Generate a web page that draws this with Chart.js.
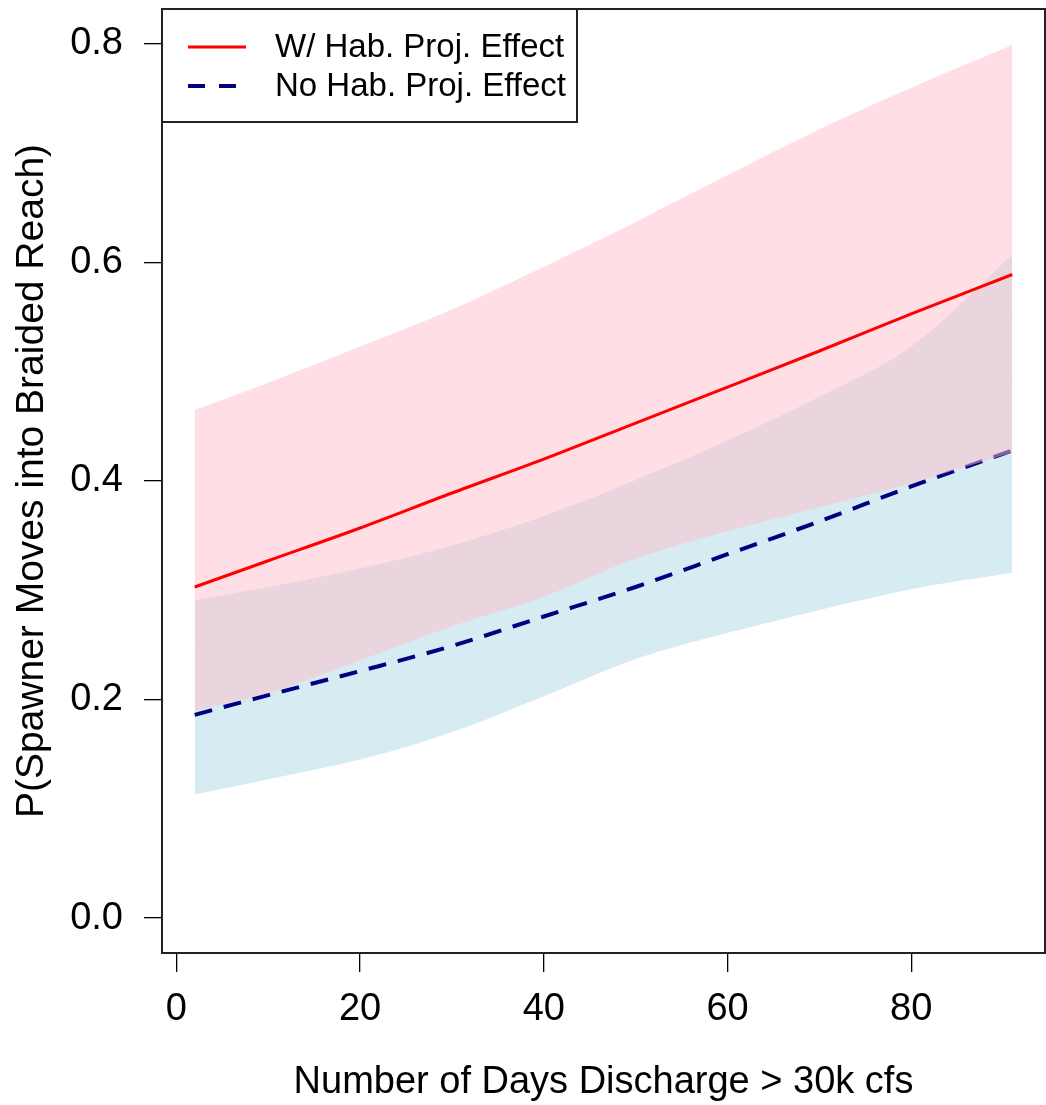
<!DOCTYPE html>
<html>
<head>
<meta charset="utf-8">
<script src="https://cdn.jsdelivr.net/npm/chart.js@4.4.1/dist/chart.umd.min.js"></script>
<style>
  html, body { margin: 0; padding: 0; background: #fff; }
  #wrap { position: relative; width: 1046px; height: 1105px; }
</style>
</head>
<body>
<div id="wrap"><canvas id="chart"></canvas></div>
<script>
// values
const days     = [2, 10, 20, 30, 40, 50, 60, 70, 80, 91];
const habFit   = [0.303, 0.327, 0.357, 0.389, 0.420, 0.453, 0.486, 0.519, 0.553, 0.589];
const habUpper = [0.465, 0.490, 0.523, 0.557, 0.596, 0.637, 0.680, 0.722, 0.760, 0.799];
const habLower = [0.190, 0.206, 0.236, 0.267, 0.294, 0.329, 0.354, 0.376, 0.398, 0.426];
const noFit    = [0.186, 0.204, 0.226, 0.249, 0.276, 0.303, 0.333, 0.363, 0.395, 0.428];
const noUpper  = [0.291, 0.303, 0.320, 0.341, 0.368, 0.401, 0.437, 0.477, 0.523, 0.607];
const noLower  = [0.113, 0.127, 0.145, 0.170, 0.203, 0.237, 0.261, 0.282, 0.301, 0.316];
const xTicks   = [0, 20, 40, 60, 80];
const yTicks   = [0, 0.2, 0.4, 0.6, 0.8];
const seriesNames = ['W/ Hab. Proj. Effect', 'No Hab. Proj. Effect'];

const FONT = 'Liberation Sans, Arial, sans-serif';
const pts = arr => days.map((d, i) => ({ x: d, y: arr[i] }));
const band = { borderWidth: 0, pointRadius: 0, cubicInterpolationMode: 'monotone' };

// plot frame, R style
const boxPlugin = {
  id: 'box',
  afterDatasetsDraw(chart) {
    const { ctx, chartArea: a } = chart;
    ctx.save();
    ctx.strokeStyle = '#222';
    ctx.lineWidth = 2;
    ctx.strokeRect(a.left, a.top, a.right - a.left, a.bottom - a.top);
    ctx.restore();
  }
};

const legendPlugin = {
  id: 'rlegend',
  afterDraw(chart) {
    const { ctx, chartArea: a } = chart;
    const w = 415, hgt = 113;
    ctx.save();
    ctx.fillStyle = '#fff';
    ctx.fillRect(a.left, a.top, w, hgt);
    ctx.strokeStyle = '#222';
    ctx.lineWidth = 2;
    ctx.strokeRect(a.left, a.top, w, hgt);
    const rows = [
      { y: a.top + 38, color: '#ff0000', width: 3, dash: [] },
      { y: a.top + 77, color: '#000080', width: 4, dash: [17, 14] }
    ];
    rows.forEach((r, i) => {
      ctx.beginPath();
      ctx.setLineDash(r.dash);
      ctx.strokeStyle = r.color;
      ctx.lineWidth = r.width;
      ctx.moveTo(a.left + 26, r.y);
      ctx.lineTo(a.left + 84, r.y);
      ctx.stroke();
      ctx.setLineDash([]);
      ctx.fillStyle = '#000';
      ctx.font = '33px ' + FONT;
      ctx.textBaseline = 'middle';
      ctx.fillText(seriesNames[i], a.left + 113, r.y + 1);
    });
    ctx.restore();
  }
};

new Chart(document.getElementById('chart'), {
  type: 'line',
  data: {
    datasets: [
      { label: 'noLower', data: pts(noLower), ...band, fill: false, order: 6 },
      { label: 'noUpper', data: pts(noUpper), ...band, fill: 0, backgroundColor: 'rgba(173,216,230,0.5)', order: 5 },
      { label: seriesNames[1], data: pts(noFit), borderColor: '#000080', borderWidth: 4, borderDash: [18, 12],
        pointRadius: 0, fill: false, cubicInterpolationMode: 'monotone', order: 4 },
      { label: 'habLower', data: pts(habLower), ...band, fill: false, order: 3 },
      { label: 'habUpper', data: pts(habUpper), ...band, fill: 3, backgroundColor: 'rgba(255,192,203,0.5)', order: 2 },
      { label: seriesNames[0], data: pts(habFit), borderColor: '#ff0000', borderWidth: 3,
        pointRadius: 0, fill: false, cubicInterpolationMode: 'monotone', order: 1 }
    ]
  },
  options: {
    responsive: true, maintainAspectRatio: false, animation: false,
    layout: { padding: { top: 9, right: 1, left: 0, bottom: 0 } },
    plugins: { legend: { display: false }, tooltip: { enabled: false } },
    scales: {
      x: {
        type: 'linear', min: -1.56, max: 94.56,
        afterBuildTicks: s => { s.ticks = xTicks.map(v => ({ value: v })); },
        afterFit: s => { s.height = 152; s.paddingLeft = 0; s.paddingRight = 0; },
        grid: { drawOnChartArea: false, drawTicks: true, tickLength: 19, color: '#000', lineWidth: 1.3 },
        border: { display: false },
        ticks: { color: '#000', font: { family: FONT, size: 38 }, padding: 15, maxRotation: 0 },
        title: { display: true, text: 'Number of Days Discharge > 30k cfs', color: '#000',
                 font: { family: FONT, size: 38 }, padding: { top: 0, bottom: 0 } }
      },
      y: {
        type: 'linear', min: -0.032, max: 0.832,
        afterBuildTicks: s => { s.ticks = yTicks.map(v => ({ value: v })); },
        afterFit: s => { s.width = 162; s.paddingTop = 0; s.paddingBottom = 0; },
        grid: { drawOnChartArea: false, drawTicks: true, tickLength: 18, color: '#000', lineWidth: 1.3 },
        border: { display: false },
        ticks: { color: '#000', font: { family: FONT, size: 38 }, padding: 21, callback: v => v.toFixed(1) },
        title: { display: true, text: 'P(Spawner Moves into Braided Reach)', color: '#000',
                 font: { family: FONT, size: 39 }, padding: { top: 9, bottom: 0 } }
      }
    }
  },
  plugins: [boxPlugin, legendPlugin]
});
</script>
</body>
</html>
